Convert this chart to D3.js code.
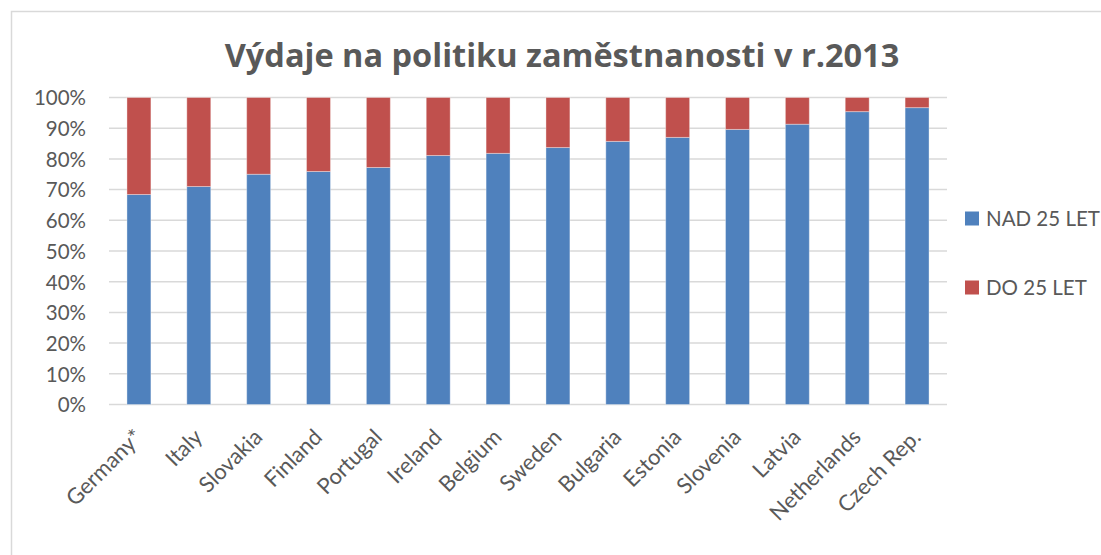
<!DOCTYPE html>
<html>
<head>
<meta charset="utf-8">
<script src="https://cdn.jsdelivr.net/npm/d3@7"></script>
<style>
  body { margin: 0; background: #fff; }
  svg { display: block; font-family: Lato, "Open Sans", sans-serif; }
</style>
</head>
<body>
<div id="chart"></div>
<script>
// data (share of spending, %)
var countries = ["Germany*", "Italy", "Slovakia", "Finland", "Portugal", "Ireland", "Belgium",
                 "Sweden", "Bulgaria", "Estonia", "Slovenia", "Latvia", "Netherlands", "Czech Rep."];
var nad25 = [68.4, 71.0, 75.0, 75.9, 77.2, 81.1, 81.8, 83.7, 85.7, 87.0, 89.6, 91.3, 95.4, 96.7];
var do25  = [31.6, 29.0, 25.0, 24.1, 22.8, 18.9, 18.2, 16.3, 14.3, 13.0, 10.4, 8.7, 4.6, 3.3];
var seriesNames = ["NAD 25 LET", "DO 25 LET"];
var seriesColors = ["#4f81bd", "#c0504d"];
var yTicks = [0, 0.1, 0.2, 0.3, 0.4, 0.5, 0.6, 0.7, 0.8, 0.9, 1];

var width = 1101, height = 555;
var margin = { top: 97.5, left: 109, right: 154, bottom: 150.5 };

var svg = d3.select("#chart")
    .append("svg")
    .attr("width", width)
    .attr("height", height);

// chart border
svg.append("rect")
    .attr("x", 11.5).attr("y", 11.5)
    .attr("width", 1200).attr("height", 700)
    .attr("fill", "none")
    .attr("stroke", "#d9d9d9")
    .attr("stroke-width", 1.5);

// title
svg.append("text")
    .attr("x", 562)
    .attr("y", 67)
    .attr("text-anchor", "middle")
    .attr("font-family", "'Open Sans', sans-serif")
    .attr("font-size", 32.5)
    .attr("font-weight", "bold")
    .attr("fill", "#595959")
    .text("Výdaje na politiku zaměstnanosti v r.2013");

var x = d3.scaleBand()
    .domain(countries)
    .range([margin.left, width - margin.right])
    .paddingInner(0.6)
    .paddingOuter(0.3);

var y = d3.scaleLinear()
    .domain([0, 1])
    .range([height - margin.bottom, margin.top]);

// gridlines
svg.append("g")
    .selectAll("line")
    .data(yTicks)
    .join("line")
    .attr("x1", margin.left)
    .attr("x2", width - margin.right)
    .attr("y1", function(d) { return y(d); })
    .attr("y2", function(d) { return y(d); })
    .attr("stroke", "#d9d9d9")
    .attr("stroke-width", 1.5);

// y axis labels
var yAxis = svg.append("g")
    .attr("transform", "translate(" + (margin.left - 23) + ",0)")
    .call(d3.axisLeft(y).tickValues(yTicks).tickFormat(d3.format(".0%")).tickSize(0));
yAxis.select(".domain").remove();
yAxis.selectAll("text")
    .attr("font-family", "Lato, sans-serif")
    .attr("font-size", 20.5)
    .attr("fill", "#595959")
    .attr("dy", "0.36em")
    .attr("x", 0);

// stacked bars
var rows = countries.map(function(c, i) {
    return { country: c, nad: nad25[i] / 100, dol: do25[i] / 100 };
});
var stack = d3.stack().keys(["nad", "dol"])(rows);

svg.append("g")
    .selectAll("g")
    .data(stack)
    .join("g")
    .attr("fill", function(d, i) { return seriesColors[i]; })
    .selectAll("rect")
    .data(function(d) { return d; })
    .join("rect")
    .attr("x", function(d) { return x(d.data.country); })
    .attr("y", function(d) { return y(Math.min(d[1], 1)); })
    .attr("width", x.bandwidth())
    .attr("height", function(d) { return y(d[0]) - y(Math.min(d[1], 1)); })
    .attr("stroke", "#ffffff")
    .attr("stroke-opacity", 0.35)
    .attr("stroke-width", 1);

// x axis labels
var xAxis = svg.append("g")
    .attr("transform", "translate(0," + (height - margin.bottom) + ")")
    .call(d3.axisBottom(x).tickSize(0));
xAxis.select(".domain").remove();
xAxis.selectAll("text")
    .attr("font-family", "Lato, sans-serif")
    .attr("font-size", 22)
    .attr("fill", "#595959")
    .attr("text-anchor", "end")
    .attr("dy", null)
    .attr("y", 0)
    .attr("transform", "translate(5,34) rotate(-45)");

// legend
var legend = svg.append("g")
    .selectAll("g")
    .data(seriesNames)
    .join("g")
    .attr("transform", function(d, i) { return "translate(965," + (218.5 + i * 69) + ")"; });
legend.append("rect")
    .attr("x", 0).attr("y", -7)
    .attr("width", 14).attr("height", 14)
    .attr("fill", function(d, i) { return seriesColors[i]; });
legend.append("text")
    .attr("x", 21)
    .attr("dy", "0.36em")
    .attr("font-size", 20.5)
    .attr("fill", "#595959")
    .text(function(d) { return d; });
</script>
</body>
</html>
